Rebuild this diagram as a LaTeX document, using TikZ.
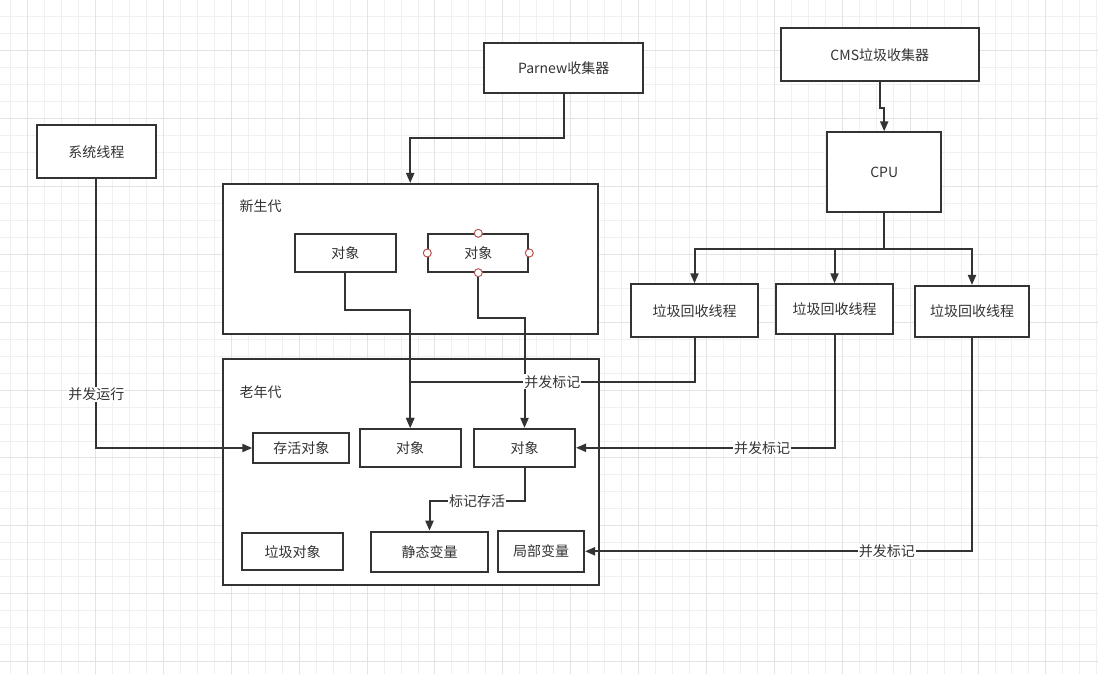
\documentclass[tikz,border=0pt]{standalone}
\usepackage{fontspec}
\setmainfont{Noto Sans CJK SC}
\usetikzlibrary{arrows.meta}
\definecolor{ink}{HTML}{333333}
\definecolor{handle}{HTML}{B85450}

\begin{document}
\begin{tikzpicture}[x=1pt, y=-1pt, >={Triangle[length=10pt,width=8pt]},
    every node/.style={font=\fontsize{14}{16}\selectfont, text=ink},
    obj/.style={draw=ink, line width=2pt, fill=white, inner sep=0pt},
    lbl/.style={fill=white, inner sep=1pt},
    link/.style={draw=ink, line width=2pt}]
        \fill[white] (0,0) rectangle (1098,674);
        \useasboundingbox (0,0) rectangle (1098,674);
        \foreach \i in {0,...,64} \draw[gray!12, line width=1pt] ({10.73+16.97*\i},0) -- ++(0,674);
        \foreach \i in {0,...,38} \draw[gray!12, line width=1pt] (0,{16.76+16.97*\i}) -- ++(1098,0);
        \foreach \i in {0,...,15} \draw[gray!22, line width=1pt] ({27.7+67.88*\i},0) -- ++(0,674);
        \foreach \i in {0,...,9} \draw[gray!22, line width=1pt] (0,{50.7+67.88*\i}) -- ++(1098,0);

        \node[obj, minimum width=375.3, minimum height=150] (young) at (410.3,259) {};
        \node[obj, minimum width=376.3, minimum height=226] (old) at (410.8,472) {};
        \node[inner sep=0pt, anchor=west] (younglbl) at (239.5,206) {新生代};
        \node[inner sep=0pt, anchor=west] (oldlbl) at (239.5,392) {老年代};

        \node[obj, minimum width=159, minimum height=50.6] (parnew) at (563.7,68) {Parnew收集器};
        \node[obj, minimum width=197.7, minimum height=52.7] (cms) at (879.8,54.7) {CMS垃圾收集器};
        \node[obj, minimum width=113.7, minimum height=79.7] (cpu) at (884.2,172.2) {CPU};
        \node[obj, minimum width=127.6, minimum height=53] (gc1) at (694.5,310.8) {垃圾回收线程};
        \node[obj, minimum width=117.6, minimum height=50] (gc2) at (834.5,309.3) {垃圾回收线程};
        \node[obj, minimum width=114, minimum height=50.7] (gc3) at (972,311.3) {垃圾回收线程};
        \node[obj, minimum width=119.3, minimum height=53.3] (sys) at (96.3,151.7) {系统线程};

        \node[obj, minimum width=100.7, minimum height=37.4] (young1) at (345.3,253) {对象};
        \node[obj, minimum width=100, minimum height=37.4] (young2) at (478.3,253) {对象};
        \node[obj, minimum width=96, minimum height=30.6] (alive) at (301.3,448) {存活对象};
        \node[obj, minimum width=101.4, minimum height=37.7] (old1) at (410.2,447.8) {对象};
        \node[obj, minimum width=101, minimum height=37.7] (old2) at (524.5,447.8) {对象};
        \node[obj, minimum width=100.4, minimum height=36.7] (garbage) at (292.5,551.7) {垃圾对象};
        \node[obj, minimum width=117.6, minimum height=40] (static) at (429.5,551.7) {静态变量};
        \node[obj, minimum width=85.7, minimum height=40.7] (local) at (541.2,551.3) {局部变量};

        \path (old1.north) ++(0,-46) coordinate (j1);

        \draw[link,->] (parnew.south) -- ++(0,44) -| (old1 |- young.north);
        \draw[link,->] (cms.south) -- ++(0,26) -| (cpu.north);
        \foreach \g in {gc1,gc2,gc3} \draw[link,->] (cpu.south) -- ++(0,36) -| (\g.north);
        \draw[link,->] (young1.south) -- ++(0,37.6) -| (old1.north);
        \draw[link,->] (young2.south) -- ++(0,45) -| (old2.north);
        \draw[link,->] (sys.south) |- node[lbl, pos=0.4] (runlbl) {并发运行} (alive.west);
        \draw[link,->] (gc1.south) |- node[lbl, pos=0.75] (marklbl1) {并发标记} (j1) -- (old1.north);
        \draw[link,->] (gc2.south) |- node[lbl, pos=0.64] (marklbl2) {并发标记} (old2.east);
        \draw[link,->] (gc3.south) |- node[lbl, pos=0.61] (marklbl3) {并发标记} (local.east);
        \draw[link,->] (old2.south) -- ++(0,33.3) -| node[lbl, pos=0.25] (livelbl) {标记存活} (static.north);

        \foreach \a in {north,south,east,west}
            \draw[handle, fill=white, line width=1pt] (young2.\a) circle (4);
    \end{tikzpicture}
\end{document}
